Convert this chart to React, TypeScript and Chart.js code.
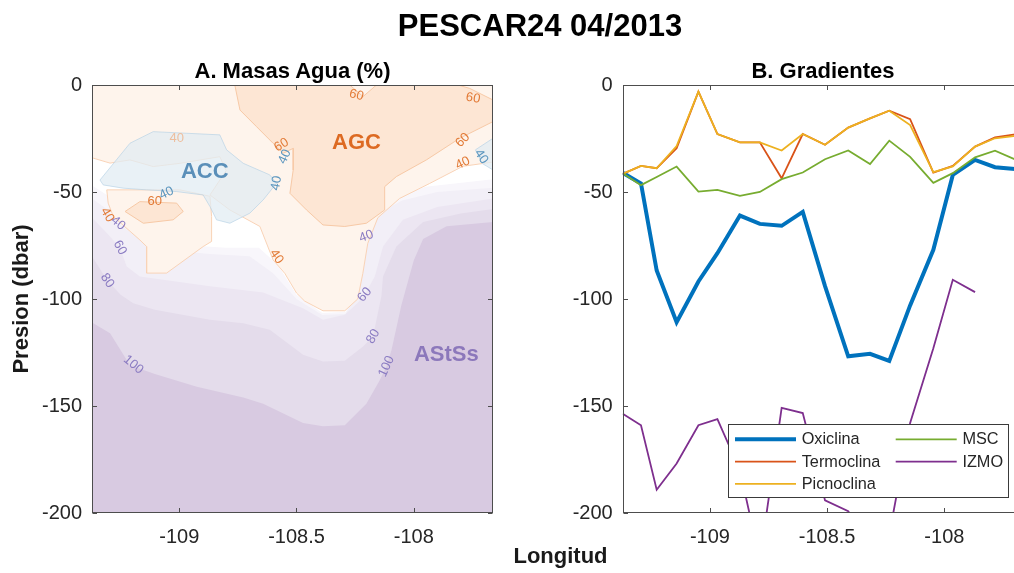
import React, { useEffect, useRef } from "react";
import { Chart, registerables } from "chart.js";

Chart.register(...registerables);

const FONT = "'Liberation Sans', Arial, Helvetica, sans-serif";
const INK = "#262626";
const AXIS = "#4d4d4d";

// ---------- shared axes ----------
const X_MIN = -109.372;
const X_MAX = -107.662;
const Y_MIN = -200;
const Y_MAX = 0;
const X_TICKS = [-109, -108.5, -108];
const Y_TICKS = [0, -50, -100, -150, -200];

// ---------- Panel B : Gradientes ----------
const stationLon = [-109.372, -109.294, -109.227, -109.142, -109.049, -108.968, -108.872, -108.787, -108.694, -108.604, -108.509, -108.41, -108.317, -108.235, -108.146, -108.047, -107.964, -107.869, -107.784, -107.662];
const oxiclina = [-41, -46, -86.7, -110.8, -91.8, -78.6, -61, -64.9, -65.8, -59.3, -94, -126.8, -125.6, -128.9, -103, -77, -42, -35, -38.4, -39.6];
const termoclina = [-41.5, -37.8, -38.9, -29.5, -3.1, -22.9, -26.8, -26.8, -43.6, -22.9, -27.9, -19.9, -15.6, -12, -16, -40.9, -37.8, -28.8, -24.5, -22.5];
const picnoclina = [-41.5, -37.8, -38.9, -28.5, -3.1, -22.9, -26.8, -26.8, -30.6, -22.9, -27.9, -19.9, -15.6, -12, -18.7, -40.7, -38, -28.8, -24.9, -23.3];
const msc = [-41.2, -46.8, -43, -38.1, -49.8, -49, -51.8, -50, -44, -40.9, -34.7, -30.6, -36.9, -26, -33.6, -45.7, -41.2, -33.8, -30.7, -36.5];
const izmo = [-153.6, -159, -189.1, -176.9, -159, -156.1, -180, -222, -150.9, -153.3, -194.1, -199.2, -215, -210, -157.9, -123, -91, -96.8, null, null];
const seriesNames = ["Oxiclina", "Termoclina", "Picnoclina", "MSC", "IZMO"];

// ---------- Panel A : Masas de agua (contours, [lon, depth]) ----------
type P = [number, number];
// AStSs (%) contour lines, from shallow (20) to deep (100)
const astss20: P[] = [[-109.372, -47], [-109.3, -52], [-109.21, -60], [-109.11, -69], [-108.95, -75], [-108.8, -76], [-108.66, -76], [-108.58, -84], [-108.5, -98], [-108.39, -106.5], [-108.29, -106], [-108.24, -95], [-108.215, -75], [-108.19, -62], [-108.12, -54], [-107.95, -47.5], [-107.662, -44]];
const astss40: P[] = [[-109.372, -53], [-109.31, -58], [-109.261, -64.6], [-109.17, -72], [-109.05, -77], [-108.87, -79], [-108.7, -80], [-108.6, -88], [-108.5, -100], [-108.39, -107.5], [-108.29, -107], [-108.24, -96], [-108.202, -70.8], [-108.15, -60], [-108.05, -54], [-107.9, -50], [-107.662, -48]];
const astss60: P[] = [[-109.372, -62], [-109.31, -69], [-109.253, -76], [-109.224, -84.8], [-109.168, -89.5], [-108.869, -94], [-108.642, -97], [-108.472, -104.3], [-108.387, -109.7], [-108.294, -107.4], [-108.239, -101.9], [-108.209, -98], [-108.166, -89.5], [-108.131, -75.5], [-108.046, -63], [-107.9, -57], [-107.662, -53]];
const astss80: P[] = [[-109.372, -80], [-109.307, -91.4], [-109.25, -98], [-109.196, -102], [-109.104, -105], [-108.869, -109.7], [-108.727, -111.3], [-108.614, -114.4], [-108.472, -126], [-108.387, -129.2], [-108.294, -128.9], [-108.216, -122.2], [-108.173, -117.5], [-108.159, -109.7], [-108.138, -98.8], [-108.131, -89.5], [-108.074, -75.5], [-107.96, -64], [-107.8, -60], [-107.662, -58]];
const astss100: P[] = [[-109.372, -111], [-109.295, -116], [-109.21, -131], [-109.104, -135], [-108.925, -141], [-108.727, -146], [-108.642, -149], [-108.472, -158], [-108.387, -159.5], [-108.294, -159], [-108.202, -149], [-108.145, -138], [-108.116, -131.5], [-108.095, -124], [-108.053, -103], [-108.0, -82], [-107.96, -72], [-107.86, -66], [-107.662, -64]];
// AGC (%) regions
const agc40Top: P[] = [[-109.372, 0], [-107.662, 0], [-107.662, -36], [-107.791, -38], [-107.932, -46], [-108.06, -53], [-108.153, -62], [-108.196, -74], [-108.217, -88], [-108.239, -100], [-108.294, -105.5], [-108.387, -105.5], [-108.465, -101], [-108.5, -97.2], [-108.55, -88], [-108.6, -81.7], [-108.656, -66.1], [-108.784, -58.4], [-108.869, -51.4], [-108.8, -40], [-108.827, -33.5], [-108.997, -36.6], [-109.111, -38.1], [-109.21, -35], [-109.295, -36.5], [-109.372, -34]];
const agc40Left: P[] = [[-109.309, -49], [-109.303, -55.2], [-109.281, -61.5], [-109.168, -72.4], [-109.139, -75.5], [-109.139, -87.9], [-109.054, -87.9], [-108.898, -75.5], [-108.862, -73.1], [-108.862, -61.5], [-108.869, -52], [-108.997, -49]];
const agc60Main: P[] = [[-108.763, 0], [-108.741, -11.7], [-108.67, -19.5], [-108.6, -27.2], [-108.557, -31.9], [-108.514, -29.6], [-108.514, -39.7], [-108.528, -50.6], [-108.457, -58.4], [-108.387, -65.4], [-108.294, -66.1], [-108.202, -64.6], [-108.124, -58.4], [-108.124, -47.5], [-108.074, -42.8], [-107.946, -35], [-107.804, -24.9], [-107.662, -17.1], [-107.662, -7], [-107.761, -1.6], [-107.811, 0], [-108.159, 0], [-108.216, -5.4], [-108.273, 0]];
const agc60Small: P[] = [[-109.231, -59.1], [-109.168, -54.5], [-109.011, -55.2], [-108.983, -59.1], [-109.026, -63], [-109.153, -64.6]];
// ACC (%) regions
const accMain: P[] = [[-109.338, -44.4], [-109.21, -27.2], [-109.111, -21.8], [-108.827, -23.3], [-108.798, -30.3], [-108.727, -36.6], [-108.614, -42], [-108.585, -45.9], [-108.642, -53.7], [-108.699, -59.9], [-108.784, -64.6], [-108.841, -63], [-108.869, -56.8], [-108.898, -51.4], [-109.011, -49.8], [-109.139, -49], [-109.239, -48.2], [-109.324, -46.7]];
const accRight: P[] = [[-107.662, -24.9], [-107.737, -30.3], [-107.709, -36.6], [-107.662, -39.7]];
// contour labels: [text, lon, depth, angle]
const agcLabels: [string, number, number, number][] = [["60", -108.244, -4.7, 15], ["60", -107.747, -6.2, 10], ["60", -108.564, -28, -30], ["60", -107.791, -25.8, -45], ["40", -107.791, -36.6, -25], ["60", -109.104, -54.5, 0], ["40", -109.307, -60.7, 60], ["40", -108.585, -80.2, 55]];
const agcFadedLabels: [string, number, number, number][] = [["40", -109.011, -24.9, 0]];
const accLabels: [string, number, number, number][] = [["40", -109.054, -50.6, -25], ["40", -108.55, -33.5, -65], ["40", -108.585, -45.9, -80], ["40", -107.712, -33.5, 55]];
const astssLabels: [string, number, number, number][] = [["40", -109.261, -64.6, 40], ["40", -108.202, -70.8, -20], ["60", -109.253, -76, 60], ["60", -108.209, -98, -50], ["80", -109.307, -91.4, 55], ["80", -108.173, -117.5, -60], ["100", -109.196, -130.7, 40], ["100", -108.116, -131.5, -65]];
const massNames = ["ACC", "AGC", "AStSs"];
const massLon = [-108.891, -108.244, -107.861];
const massDep = [-40.5, -27.2, -126];

// ---------- helpers ----------
const toXY = (pts: P[]) => {
  const d = pts.map(([x, y]) => ({ x, y }));
  d.push({ ...d[0] });
  return d;
};
const band = (c: P[]): P[] => [...c, [X_MAX, Y_MIN], [X_MIN, Y_MIN]];

function scalesFor(yWidth: number, yTitle: boolean) {
  return {
    x: {
      type: "linear",
      min: X_MIN,
      max: X_MAX,
      grid: { display: false, drawTicks: false },
      border: { display: false },
      afterBuildTicks: (s: any) => {
        s.ticks = X_TICKS.map((v) => ({ value: v }));
      },
      afterFit: (s: any) => {
        s.height = 60;
      },
      ticks: {
        color: INK,
        font: { family: FONT, size: 20 },
        padding: 12.5,
        maxRotation: 0,
        autoSkip: false,
        callback: (v: any) => String(v),
      },
    },
    y: {
      type: "linear",
      min: Y_MIN,
      max: Y_MAX,
      grid: { display: false, drawTicks: false },
      border: { display: false },
      afterBuildTicks: (s: any) => {
        s.ticks = Y_TICKS.map((v) => ({ value: v }));
      },
      afterFit: (s: any) => {
        s.width = yWidth;
      },
      ticks: {
        color: INK,
        font: { family: FONT, size: 20 },
        padding: 10,
        autoSkip: false,
        callback: (v: any) => String(v),
      },
      title: {
        display: yTitle,
        text: "Presion (dbar)",
        color: "#1a1a1a",
        font: { family: FONT, size: 22, weight: "bold" },
        padding: { top: 9, bottom: 0 },
      },
    },
  };
}

const boxPlugin = {
  id: "matlabBox",
  afterDatasetsDraw(chart: any) {
    const { ctx, chartArea, scales } = chart;
    const l = Math.round(chartArea.left) + 0.5;
    const r = Math.round(chartArea.right) - 0.5;
    const t = Math.round(chartArea.top) + 0.5;
    const b = Math.round(chartArea.bottom) - 0.5;
    ctx.save();
    ctx.strokeStyle = AXIS;
    ctx.lineWidth = 1;
    ctx.strokeRect(l, t, r - l, b - t);
    ctx.beginPath();
    const tl = 4.5;
    for (const v of X_TICKS) {
      const px = Math.round(scales.x.getPixelForValue(v)) + 0.5;
      ctx.moveTo(px, b);
      ctx.lineTo(px, b - tl);
      ctx.moveTo(px, t);
      ctx.lineTo(px, t + tl);
    }
    for (const v of Y_TICKS) {
      const py = Math.round(scales.y.getPixelForValue(v)) + 0.5;
      ctx.moveTo(l, py);
      ctx.lineTo(l + tl, py);
      ctx.moveTo(r, py);
      ctx.lineTo(r - tl, py);
    }
    ctx.stroke();
    ctx.restore();
  },
};

const labelPlugin = {
  id: "contourLabels",
  afterDatasetsDraw(chart: any) {
    const { ctx, scales } = chart;
    const drawSet = (set: [string, number, number, number][], color: string) => {
      ctx.fillStyle = color;
      for (const [txt, lon, dep, ang] of set) {
        const px = scales.x.getPixelForValue(lon);
        const py = scales.y.getPixelForValue(dep);
        ctx.save();
        ctx.translate(px, py);
        ctx.rotate((ang * Math.PI) / 180);
        ctx.fillText(txt, 0, 0);
        ctx.restore();
      }
    };
    ctx.save();
    ctx.beginPath();
    ctx.rect(chart.chartArea.left, chart.chartArea.top, chart.chartArea.right - chart.chartArea.left, chart.chartArea.bottom - chart.chartArea.top);
    ctx.clip();
    ctx.font = `13px ${FONT}`;
    ctx.textAlign = "center";
    ctx.textBaseline = "middle";
    drawSet(agcLabels, "#E27A36");
    drawSet(agcFadedLabels, "#EDBE9E");
    drawSet(accLabels, "#5A95BE");
    drawSet(astssLabels, "#8A7BC2");
    const massColors = ["#5A8FB9", "#DD6A22", "#8C78BB"];
    ctx.font = `bold 22px ${FONT}`;
    massNames.forEach((n, i) => {
      ctx.fillStyle = massColors[i];
      ctx.fillText(n, scales.x.getPixelForValue(massLon[i]), scales.y.getPixelForValue(massDep[i]));
    });
    ctx.restore();
  },
};

const legendPlugin = {
  id: "insideLegend",
  afterDatasetsDraw(chart: any) {
    const { ctx, chartArea } = chart;
    const w = 280;
    const h = 73.3;
    const right = chartArea.right - 15.3;
    const bottom = chartArea.bottom - 15.7;
    const left = right - w;
    const top = bottom - h;
    ctx.save();
    ctx.fillStyle = "#ffffff";
    ctx.fillRect(left, top, w, h);
    ctx.strokeStyle = "#3a3a3a";
    ctx.lineWidth = 1;
    ctx.strokeRect(Math.round(left) + 0.5, Math.round(top) + 0.5, Math.round(w), Math.round(h));
    ctx.font = `16.3px ${FONT}`;
    ctx.textAlign = "left";
    ctx.textBaseline = "middle";
    chart.data.datasets.forEach((ds: any, i: number) => {
      const col = Math.floor(i / 3);
      const row = i % 3;
      const x0 = left + 6.7 + col * 160.7;
      const y0 = top + 15.3 + row * 22.3;
      ctx.strokeStyle = ds.borderColor;
      ctx.lineWidth = ds.borderWidth;
      ctx.beginPath();
      ctx.moveTo(x0, y0);
      ctx.lineTo(x0 + 61, y0);
      ctx.stroke();
      ctx.fillStyle = INK;
      ctx.fillText(ds.label, x0 + 66.7, y0 + 0.5);
    });
    ctx.restore();
  },
};

function leftConfig(): any {
  const accFill = "rgba(226,236,243,0.75)";
  const accLine = "rgba(180,208,229,0.8)";
  const layers: { pts: P[]; bg: string; bc: string; bw: number }[] = [
    { pts: band(astss20), bg: "#F8F6FB", bc: "#F8F6FB", bw: 0 },
    { pts: band(astss40), bg: "#F2EFF7", bc: "#F2EFF7", bw: 0 },
    { pts: band(astss60), bg: "#ECE6F2", bc: "#ECE6F2", bw: 0 },
    { pts: band(astss80), bg: "#E4DCEB", bc: "#E4DCEB", bw: 0 },
    { pts: band(astss100), bg: "#D8CAE1", bc: "#D8CAE1", bw: 0 },
    { pts: agc40Top, bg: "#FEF4EC", bc: "#F9D3B7", bw: 1 },
    { pts: agc40Left, bg: "#FEF4EC", bc: "#F9D3B7", bw: 1 },
    { pts: agc60Main, bg: "#FDE6D4", bc: "#F7C9A6", bw: 1 },
    { pts: agc60Small, bg: "#FDE6D4", bc: "#F7C9A6", bw: 1 },
    { pts: accMain, bg: accFill, bc: accLine, bw: 0.8 },
    { pts: accRight, bg: accFill, bc: accLine, bw: 0.8 },
  ];
  const n = layers.length;
  return {
    type: "line",
    data: {
      datasets: layers.map((L, i) => ({
        data: toXY(L.pts),
        backgroundColor: L.bg,
        borderColor: L.bc,
        borderWidth: L.bw,
        fill: "shape",
        pointRadius: 0,
        tension: 0,
        order: n - i,
        clip: 0,
      })),
    },
    options: {
      animation: false,
      responsive: false,
      events: [],
      layout: { padding: { top: 85, right: 7, left: 0, bottom: 0 } },
      plugins: { legend: { display: false }, tooltip: { enabled: false }, title: { display: false } },
      scales: scalesFor(92, true),
    },
    plugins: [labelPlugin, boxPlugin],
  };
}

function rightConfig(): any {
  const colors = ["#0072BD", "#D95319", "#EDB120", "#77AC30", "#7E2F8E"];
  const widths = [4, 1.8, 1.8, 1.8, 1.8];
  const series = [oxiclina, termoclina, picnoclina, msc, izmo];
  return {
    type: "line",
    data: {
      datasets: series.map((s, i) => ({
        label: seriesNames[i],
        data: stationLon.map((x, j) => ({ x, y: s[j] })),
        borderColor: colors[i],
        backgroundColor: colors[i],
        borderWidth: widths[i],
        pointRadius: 0,
        tension: 0,
        fill: false,
        clip: 0,
        order: series.length - i,
      })),
    },
    options: {
      animation: false,
      responsive: false,
      events: [],
      layout: { padding: { top: 85, right: 6.4, left: 0, bottom: 0 } },
      plugins: { legend: { display: false }, tooltip: { enabled: false }, title: { display: false } },
      scales: scalesFor(122.7, false),
    },
    plugins: [boxPlugin, legendPlugin],
  };
}

const textBase: React.CSSProperties = {
  position: "absolute",
  whiteSpace: "nowrap",
  transform: "translateX(-50%)",
  fontFamily: FONT,
  fontWeight: "bold",
  color: "#000",
};

export default function App() {
  const leftRef = useRef<HTMLCanvasElement>(null);
  const rightRef = useRef<HTMLCanvasElement>(null);
  useEffect(() => {
    const a = new Chart(leftRef.current as HTMLCanvasElement, leftConfig());
    const b = new Chart(rightRef.current as HTMLCanvasElement, rightConfig());
    return () => {
      a.destroy();
      b.destroy();
    };
  }, []);
  return (
    <div style={{ position: "fixed", left: 0, top: 0, width: 1014, height: 573, overflow: "hidden", background: "#fff" }}>
      <canvas ref={leftRef} width={500} height={573} style={{ position: "absolute", left: 0, top: 0 }} />
      <canvas ref={rightRef} width={530} height={573} style={{ position: "absolute", left: 500, top: 0 }} />
      <div style={{ ...textBase, left: 540, top: 10, fontSize: 31, lineHeight: "31px" }}>PESCAR24 04/2013</div>
      <div style={{ ...textBase, left: 292.5, top: 60, fontSize: 22, lineHeight: "22px" }}>A. Masas Agua (%)</div>
      <div style={{ ...textBase, left: 823, top: 60, fontSize: 22, lineHeight: "22px" }}>B. Gradientes</div>
      <div style={{ ...textBase, left: 560.5, top: 545, fontSize: 22, lineHeight: "22px", color: "#1a1a1a" }}>Longitud</div>
    </div>
  );
}
